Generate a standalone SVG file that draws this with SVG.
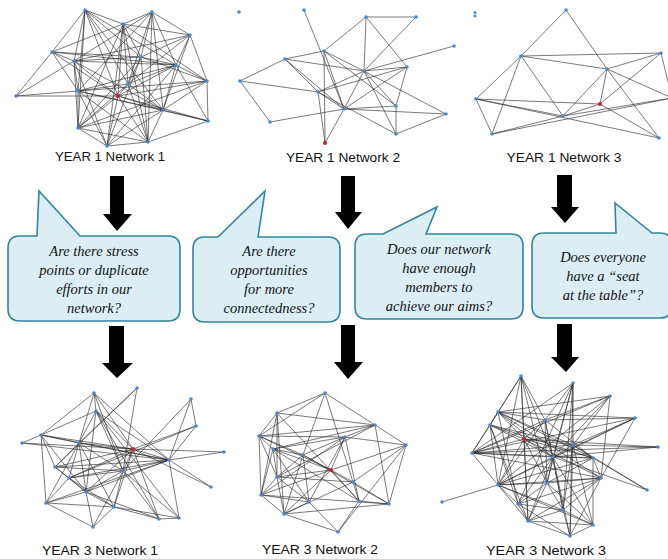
<svg xmlns="http://www.w3.org/2000/svg" width="668" height="559" viewBox="0 0 668 559">
<style>
.e{fill:none;stroke:#2e2e2e;stroke-width:0.75;stroke-opacity:0.85}
.n{fill:#4a88d2}
.r{fill:#c4262e}
.lbl{font-family:"Liberation Sans",Arial,sans-serif;font-size:13px;fill:#111;text-anchor:middle}
.bub{fill:#dbeef4;stroke:#31859c;stroke-width:1.6}
.q{font-family:"Liberation Serif","Times New Roman",serif;font-style:italic;font-size:14.5px;fill:#111;text-anchor:middle}
.arr{fill:#000}
</style>
<rect width="668" height="559" fill="#fff"/>

<g id="y1n1">
<path class="e" d="M85 10L123 24M85 10L52 52M85 10L74 61M85 10L141 57M85 10L78 91M85 10L128 84M85 10L118 96M85 10L163 110M85 10L176 65M85 10L78 128M152 12L123 24M152 12L190 35M152 12L141 57M152 12L176 65M152 12L163 110M152 12L78 91M152 12L128 84M152 12L74 61M152 12L148 142M123 24L52 52M123 24L190 35M123 24L141 57M123 24L128 84M123 24L118 96M123 24L107 146M123 24L78 128M123 24L207 81M123 24L148 142M190 35L176 65M190 35L207 81M190 35L141 57M190 35L128 84M190 35L74 61M190 35L163 110M52 52L74 61M52 52L16 96M52 52L78 91M52 52L141 57M52 52L118 96M52 52L176 65M74 61L141 57M74 61L176 65M74 61L78 91M74 61L118 96M74 61L163 110M74 61L78 128M74 61L107 146M141 57L176 65M141 57L128 84M141 57L207 81M141 57L107 146M141 57L148 142M141 57L78 128M176 65L207 81M176 65L78 91M176 65L128 84M176 65L118 96M176 65L208 121M176 65L163 110M176 65L107 146M207 81L78 91M207 81L163 110M207 81L208 121M207 81L118 96M207 81L78 128M16 96L78 91M16 96L74 61M16 96L118 96M78 91L128 84M78 91L163 110M78 91L78 128M78 91L107 146M78 91L148 142M78 91L208 121M128 84L118 96M128 84L163 110M128 84L78 128M128 84L148 142M118 96L163 110M118 96L78 128M118 96L107 146M118 96L148 142M163 110L208 121M163 110L78 128M163 110L107 146M163 110L148 142M208 121L148 142M208 121L118 96M78 128L107 146M78 128L148 142M107 146L148 142"/>
<circle class="n" cx="85" cy="10" r="1.8"/><circle class="n" cx="152" cy="12" r="1.8"/><circle class="n" cx="123" cy="24" r="1.8"/><circle class="n" cx="190" cy="35" r="1.8"/><circle class="n" cx="52" cy="52" r="1.8"/><circle class="n" cx="74" cy="61" r="1.8"/><circle class="n" cx="141" cy="57" r="1.8"/><circle class="n" cx="176" cy="65" r="1.8"/><circle class="n" cx="207" cy="81" r="1.8"/><circle class="n" cx="16" cy="96" r="1.8"/><circle class="n" cx="78" cy="91" r="1.8"/><circle class="n" cx="128" cy="84" r="1.8"/><circle class="r" cx="118" cy="96" r="2"/><circle class="n" cx="163" cy="110" r="1.8"/><circle class="n" cx="208" cy="121" r="1.8"/><circle class="n" cx="78" cy="128" r="1.8"/><circle class="n" cx="107" cy="146" r="1.8"/><circle class="n" cx="148" cy="142" r="1.8"/>
<text class="lbl" x="110" y="161" textLength="110" lengthAdjust="spacingAndGlyphs">YEAR 1 Network 1</text>
</g>

<g id="y1n2">
<path class="e" d="M304 10L344 109M366 17L416 17M366 17L364 71M366 17L324 51M366 17L407 67M416 17L364 71M324 51L285 59M324 51L364 71M324 51L344 109M324 51L325 143M324 51L396 106M285 59L364 71M285 59L318 92M285 59L240 81M285 59L344 109M364 71L454 46M364 71L407 67M364 71L318 92M364 71L344 109M364 71L396 134M364 71L396 106M364 71L446 114M407 67L318 92M407 67L344 109M407 67L396 106M240 81L318 92M240 81L270 122M318 92L344 109M318 92L325 143M318 92L396 134M344 109L270 122M344 109L396 106M344 109L446 114M344 109L325 143M396 106L396 134M396 134L446 114"/>
<circle class="n" cx="239" cy="12" r="1.8"/><circle class="n" cx="304" cy="10" r="1.8"/><circle class="n" cx="366" cy="17" r="1.8"/><circle class="n" cx="416" cy="17" r="1.8"/><circle class="n" cx="324" cy="51" r="1.8"/><circle class="n" cx="285" cy="59" r="1.8"/><circle class="n" cx="364" cy="71" r="1.8"/><circle class="n" cx="407" cy="67" r="1.8"/><circle class="n" cx="240" cy="81" r="1.8"/><circle class="n" cx="318" cy="92" r="1.8"/><circle class="n" cx="344" cy="109" r="1.8"/><circle class="n" cx="396" cy="106" r="1.8"/><circle class="n" cx="270" cy="122" r="1.8"/><circle class="n" cx="396" cy="134" r="1.8"/><circle class="r" cx="325" cy="143" r="2"/><circle class="n" cx="454" cy="46" r="1.8"/><circle class="n" cx="446" cy="114" r="1.8"/>
<text class="lbl" x="343" y="162" textLength="114" lengthAdjust="spacingAndGlyphs">YEAR 1 Network 2</text>
</g>

<g id="y1n3">
<path class="e" d="M566 10L521 56M566 10L607 69M521 56L661 53M521 56L607 69M521 56L476 99M521 56L492 134M521 56L563 116M661 53L607 69M661 53L600 104M661 53L672 98M607 69L563 116M607 69L600 104M607 69L659 138M607 69L672 98M476 99L563 116M476 99L600 104M476 99L492 134M476 99L659 138M492 134L563 116M492 134L672 98M563 116L600 104M563 116L672 98M600 104L659 138"/>
<circle class="n" cx="475" cy="12.5" r="1.5"/><circle class="n" cx="475" cy="16" r="1.5"/><circle class="n" cx="566" cy="10" r="1.8"/><circle class="n" cx="521" cy="56" r="1.8"/><circle class="n" cx="661" cy="53" r="1.8"/><circle class="n" cx="607" cy="69" r="1.8"/><circle class="n" cx="476" cy="99" r="1.8"/><circle class="r" cx="600" cy="104" r="2"/><circle class="n" cx="563" cy="116" r="1.8"/><circle class="n" cx="492" cy="134" r="1.8"/><circle class="n" cx="659" cy="138" r="1.8"/>
<text class="lbl" x="564" y="162" textLength="115" lengthAdjust="spacingAndGlyphs">YEAR 1 Network 3</text>
</g>

<g id="bubble1">
<path class="bub" d="M20 236L37 236L39 191L80 236L168 236Q180 236 180 248L180 309Q180 321 168 321L20 321Q8 321 8 309L8 248Q8 236 20 236Z"/>
<text class="q" x="94" y="256">Are there stress</text>
<text class="q" x="94" y="275">points or duplicate</text>
<text class="q" x="94" y="294">efforts in our</text>
<text class="q" x="94" y="313">network?</text>
</g>

<g id="bubble2">
<path class="bub" d="M205 237L218 237L265 191L258 237L328 237Q340 237 340 249L340 310Q340 322 328 322L205 322Q193 322 193 310L193 249Q193 237 205 237Z"/>
<text class="q" x="269" y="256">Are there</text>
<text class="q" x="269" y="275">opportunities</text>
<text class="q" x="269" y="294">for more</text>
<text class="q" x="269" y="313">connectedness?</text>
</g>

<g id="bubble3">
<path class="bub" d="M367 234L383 234L437 207L426 234L511 234Q523 234 523 246L523 307Q523 319 511 319L367 319Q355 319 355 307L355 246Q355 234 367 234Z"/>
<text class="q" x="439" y="254">Does our network</text>
<text class="q" x="439" y="273">have enough</text>
<text class="q" x="439" y="292">members to</text>
<text class="q" x="439" y="311">achieve our aims?</text>
</g>

<g id="bubble4">
<path class="bub" d="M544 233L616 233L615 203L652 233L660 233Q672 233 672 245L672 306Q672 318 660 318L544 318Q532 318 532 306L532 245Q532 233 544 233Z"/>
<text class="q" x="603" y="262">Does everyone</text>
<text class="q" x="603" y="281">have a “seat</text>
<text class="q" x="603" y="300">at the table”?</text>
</g>

<g id="y3n1">
<path class="e" d="M94 393L41 435M94 393L96 411M94 393L79 443M94 393L133 449M94 393L169 460M94 393L123 471M137 388L79 443M137 388L123 471M137 388L55 467M96 411L41 435M96 411L79 443M96 411L133 449M96 411L123 471M96 411L169 460M96 411L159 519M96 411L86 492M96 411L179 518M191 399L196 426M191 399L169 460M191 399L123 471M196 426L169 460M196 426L133 449M196 426L69 478M41 435L22 443M41 435L79 443M41 435L133 449M41 435L55 467M41 435L46 503M41 435L86 492M41 435L169 460M22 443L133 449M22 443L169 460M79 443L133 449M79 443L55 467M79 443L69 478M79 443L86 492M79 443L123 471M79 443L169 460M79 443L46 503M79 443L114 507M133 449L169 460M133 449L224 452M133 449L123 471M133 449L69 478M133 449L86 492M133 449L114 507M133 449L55 467M133 449L159 519M133 449L211 487M169 460L224 452M169 460L211 487M169 460L123 471M169 460L55 467M169 460L46 503M169 460L69 478M169 460L86 492M169 460L179 518M55 467L123 471M55 467L86 492M55 467L69 478M69 478L123 471M69 478L86 492M69 478L46 503M69 478L114 507M123 471L86 492M123 471L114 507M123 471L159 519M123 471L179 518M123 471L93 527M86 492L46 503M86 492L114 507M86 492L93 527M86 492L159 519M46 503L114 507M46 503L93 527M114 507L93 527M114 507L159 519M114 507L179 518M159 519L179 518"/>
<circle class="n" cx="94" cy="393" r="1.8"/><circle class="n" cx="137" cy="388" r="1.8"/><circle class="n" cx="96" cy="411" r="1.8"/><circle class="n" cx="191" cy="399" r="1.8"/><circle class="n" cx="196" cy="426" r="1.8"/><circle class="n" cx="41" cy="435" r="1.8"/><circle class="n" cx="22" cy="443" r="1.8"/><circle class="n" cx="79" cy="443" r="1.8"/><circle class="r" cx="133" cy="449" r="2"/><circle class="n" cx="169" cy="460" r="1.8"/><circle class="n" cx="224" cy="452" r="1.8"/><circle class="n" cx="55" cy="467" r="1.8"/><circle class="n" cx="69" cy="478" r="1.8"/><circle class="n" cx="123" cy="471" r="1.8"/><circle class="n" cx="211" cy="487" r="1.8"/><circle class="n" cx="86" cy="492" r="1.8"/><circle class="n" cx="46" cy="503" r="1.8"/><circle class="n" cx="114" cy="507" r="1.8"/><circle class="n" cx="159" cy="519" r="1.8"/><circle class="n" cx="179" cy="518" r="1.8"/><circle class="n" cx="93" cy="527" r="1.8"/>
<text class="lbl" x="100" y="555" textLength="116" lengthAdjust="spacingAndGlyphs">YEAR 3 Network 1</text>
</g>

<g id="y3n2">
<path class="e" d="M325 393L277 413M325 393L375 425M325 393L353 482M325 393L303 455M325 393L259 436M277 413L259 436M277 413L359 501M277 413L261 495M277 413L277 477M277 413L375 425M277 413L284 514M375 425L406 445M375 425L259 436M375 425L345 437M375 425L389 504M375 425L277 477M375 425L273 449M259 436L273 449M259 436L277 477M259 436L303 455M259 436L331 470M259 436L345 437M259 436L261 495M345 437L273 449M345 437L303 455M345 437L331 470M345 437L359 501M345 437L309 502M345 437L406 445M345 437L261 495M406 445L389 504M406 445L331 470M406 445L353 482M406 445L338 532M273 449L331 470M273 449L303 455M273 449L277 477M273 449L309 502M273 449L359 501M273 449L261 495M303 455L331 470M303 455L277 477M303 455L309 502M303 455L284 514M303 455L389 504M331 470L353 482M331 470L277 477M331 470L359 501M331 470L284 514M331 470L261 495M277 477L261 495M277 477L309 502M277 477L353 482M277 477L284 514M353 482L359 501M353 482L389 504M353 482L284 514M261 495L284 514M261 495L309 502M261 495L389 504M309 502L338 532M309 502L284 514M359 501L338 532M359 501L389 504M284 514L389 504M284 514L338 532"/>
<circle class="n" cx="325" cy="393" r="1.8"/><circle class="n" cx="277" cy="413" r="1.8"/><circle class="n" cx="375" cy="425" r="1.8"/><circle class="n" cx="259" cy="436" r="1.8"/><circle class="n" cx="345" cy="437" r="1.8"/><circle class="n" cx="406" cy="445" r="1.8"/><circle class="n" cx="273" cy="449" r="1.8"/><circle class="n" cx="303" cy="455" r="1.8"/><circle class="r" cx="331" cy="470" r="2"/><circle class="n" cx="277" cy="477" r="1.8"/><circle class="n" cx="353" cy="482" r="1.8"/><circle class="n" cx="261" cy="495" r="1.8"/><circle class="n" cx="309" cy="502" r="1.8"/><circle class="n" cx="359" cy="501" r="1.8"/><circle class="n" cx="389" cy="504" r="1.8"/><circle class="n" cx="284" cy="514" r="1.8"/><circle class="n" cx="338" cy="532" r="1.8"/>
<text class="lbl" x="320" y="554" textLength="116" lengthAdjust="spacingAndGlyphs">YEAR 3 Network 2</text>
</g>

<g id="y3n3">
<path class="e" d="M521 376L498 412M521 376L490 425M521 376L524 439M521 376L553 457M521 376L547 483M521 376L498 485M521 376L528 521M521 376L545 420M573 383L545 420M573 383L553 457M573 383L573 445M573 383L563 510M573 383L570 536M573 383L547 483M573 383L472 453M573 383L518 504M610 396L545 420M610 396L573 445M610 396L553 457M610 396L498 412M610 396L472 453M610 396L601 478M610 396L498 485M498 412L490 425M498 412L545 420M498 412L524 439M498 412L573 445M498 412L553 457M498 412L635 418M498 412L593 458M498 412L601 478M498 412L472 453M498 412L518 504M545 420L635 418M545 420L524 439M545 420L553 457M545 420L547 483M545 420L593 458M545 420L472 453M545 420L498 485M545 420L563 510M635 418L573 445M635 418L472 453M635 418L553 457M635 418L601 478M635 418L498 485M490 425L472 453M490 425L524 439M490 425L573 445M490 425L553 457M490 425L498 485M490 425L518 504M490 425L593 458M490 425L528 521M524 439L573 445M524 439L553 457M524 439L472 453M524 439L498 485M524 439L547 483M524 439L528 521M524 439L658 447M524 439L593 458M524 439L601 478M573 445L658 447M573 445L553 457M573 445L593 458M573 445L563 510M573 445L472 453M573 445L570 536M573 445L593 525M573 445L647 490M658 447L553 457M658 447L472 453M472 453L553 457M472 453L498 485M472 453L601 478M472 453L593 458M553 457L593 458M553 457L547 483M553 457L518 504M553 457L563 510M553 457L528 521M553 457L570 536M553 457L593 525M553 457L647 490M553 457L498 485M593 458L601 478M593 458L647 490M593 458L593 525M593 458L498 485M593 458L547 483M601 478L547 483M601 478L498 485M601 478L518 504M601 478L528 521M601 478L563 510M601 478L570 536M547 483L498 485M547 483L518 504M547 483L528 521M547 483L563 510M547 483L593 525M498 485L442 502M498 485L518 504M498 485L528 521M498 485L593 525M498 485L563 510M518 504L528 521M518 504L563 510M518 504L570 536M563 510L528 521M563 510L593 525M563 510L570 536M528 521L593 525M528 521L570 536M593 525L570 536"/>
<circle class="n" cx="521" cy="376" r="1.8"/><circle class="n" cx="573" cy="383" r="1.8"/><circle class="n" cx="610" cy="396" r="1.8"/><circle class="n" cx="498" cy="412" r="1.8"/><circle class="n" cx="545" cy="420" r="1.8"/><circle class="n" cx="635" cy="418" r="1.8"/><circle class="n" cx="490" cy="425" r="1.8"/><circle class="r" cx="524" cy="439" r="2"/><circle class="n" cx="573" cy="445" r="1.8"/><circle class="n" cx="658" cy="447" r="1.8"/><circle class="n" cx="472" cy="453" r="1.8"/><circle class="n" cx="553" cy="457" r="1.8"/><circle class="n" cx="593" cy="458" r="1.8"/><circle class="n" cx="601" cy="478" r="1.8"/><circle class="n" cx="547" cy="483" r="1.8"/><circle class="n" cx="498" cy="485" r="1.8"/><circle class="n" cx="647" cy="490" r="1.8"/><circle class="n" cx="442" cy="502" r="1.8"/><circle class="n" cx="518" cy="504" r="1.8"/><circle class="n" cx="563" cy="510" r="1.8"/><circle class="n" cx="528" cy="521" r="1.8"/><circle class="n" cx="593" cy="525" r="1.8"/><circle class="n" cx="570" cy="536" r="1.8"/>
<text class="lbl" x="546" y="555" textLength="120" lengthAdjust="spacingAndGlyphs">YEAR 3 Network 3</text>
</g>

<g id="connectors">
<polygon class="arr" points="110,176 124,176 124,214 132,214 117,231 103,214 110,214"/>
<polygon class="arr" points="341,176 355,176 355,212 362,212 348,229 335,212 341,212"/>
<polygon class="arr" points="557,175 572,175 572,207 579,207 565,223 551,207 557,207"/>
<polygon class="arr" points="109,326 124,326 124,363 133,363 117,378 102,363 109,363"/>
<polygon class="arr" points="341,325 355,325 355,362 363,362 348,379 334,362 341,362"/>
<polygon class="arr" points="557,324 572,324 572,357 579,357 566,372 551,357 557,357"/>
</g>
</svg>
